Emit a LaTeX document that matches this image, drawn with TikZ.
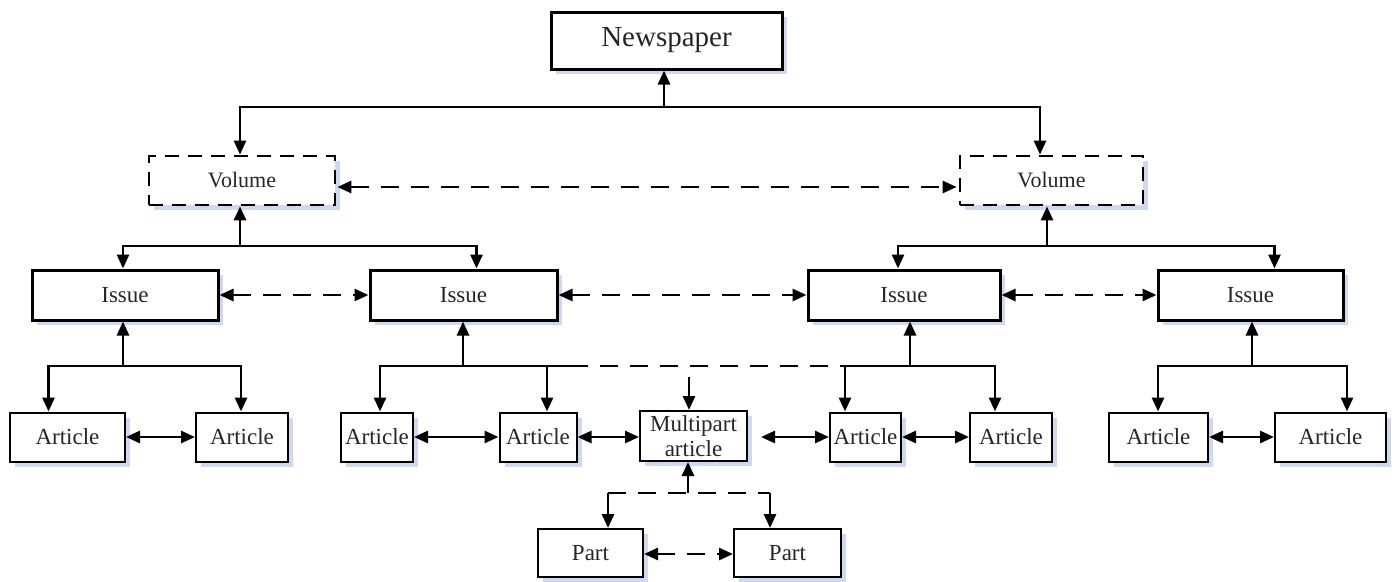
\documentclass[tikz,border=0pt]{standalone}
\usepackage{fontspec}
\setmainfont{Liberation Serif}
\usetikzlibrary{arrows.meta,calc,shadows}
\definecolor{shadowblue}{RGB}{206,216,238}
\begin{document}
\begin{tikzpicture}[x=1pt,y=-1pt,
  sh/.style={drop shadow={shadow xshift=5pt,shadow yshift=-5pt,fill=shadowblue,opacity=1}},
  box/.style={sh,draw=black,fill=white,line width=3pt,rectangle,inner sep=0pt,align=center,
    font=\fontsize{23}{26}\selectfont,text=black!85},
  abox/.style={box,line width=2pt},
  vbox/.style={box,dash pattern=on 14pt off 9pt,line width=2.8pt},
  conn/.style={line width=2.8pt},
  dconn/.style={conn,dash pattern=on 18pt off 12pt},
  tip/.tip={Triangle[length=14pt,width=12pt]},
  arr/.style={conn,-tip},
  darr/.style={conn,tip-tip},
  ddarr/.style={dconn,tip-tip}
]
\useasboundingbox (0,0) rectangle (1397,581);

% nodes
\node[box,minimum width=231pt,minimum height=57pt,font=\fontsize{29}{32}\selectfont] (np) at (666.5,40.5) {Newspaper};
\node[vbox,minimum width=186pt,minimum height=49pt,font=\fontsize{22}{26}\selectfont] (vol1) at (242,180.5) {Volume};
\node[vbox,minimum width=183pt,minimum height=49pt,font=\fontsize{22}{26}\selectfont] (vol2) at (1051.5,180.5) {Volume};

\node[box,minimum width=186pt,minimum height=50pt] (is1) at (125,295) {Issue};
\node[box,minimum width=187pt,minimum height=50pt] (is2) at (463.5,295) {Issue};
\node[box,minimum width=192pt,minimum height=50pt] (is3) at (904,295) {Issue};
\node[box,minimum width=185pt,minimum height=50pt] (is4) at (1250.5,295) {Issue};

\node[abox,minimum width=115pt,minimum height=49pt] (a1) at (67.5,437) {Article};
\node[abox,minimum width=92pt,minimum height=49pt] (a2) at (242,437) {Article};
\node[abox,minimum width=72pt,minimum height=49pt] (a3) at (377,437) {Article};
\node[abox,minimum width=77pt,minimum height=49pt] (a4) at (538,437) {Article};
\node[abox,minimum width=107pt,minimum height=50pt,font=\fontsize{23}{25}\selectfont] (mp) at (693.5,436) {Multipart\\article};
\node[abox,minimum width=71pt,minimum height=49pt] (a5) at (865.5,437) {Article};
\node[abox,minimum width=82pt,minimum height=49pt] (a6) at (1011,437) {Article};
\node[abox,minimum width=99pt,minimum height=49pt] (a7) at (1158.5,437) {Article};
\node[abox,minimum width=111pt,minimum height=49pt] (a8) at (1330.5,437) {Article};

\node[abox,minimum width=105pt,minimum height=48pt] (p1) at (590.5,553) {Part};
\node[abox,minimum width=107pt,minimum height=48pt] (p2) at (787.5,553) {Part};

% junction points
\coordinate (j0) at (664,107);
\coordinate (jv1) at (240,246);
\coordinate (jv2) at (1047,246);
\coordinate (ji1) at (123,366);
\coordinate (ji2) at (463,366);
\coordinate (d1) at (570,366);
\coordinate (ji3l) at (845,366);
\coordinate (ji3) at (910,366);
\coordinate (ji4) at (1252,366);
\coordinate (mtop) at (689,377);
\coordinate (jm) at (688,493);
\coordinate (pj1) at (608,493);
\coordinate (pj2) at (770,493);

% Newspaper level
\draw[arr] (j0) -- (j0 |- np.south);
\draw[arr] (j0) -| ($(vol1.north)+(-2,0)$);
\draw[arr] (j0) -| ($(vol2.north)+(-11.5,0)$);

% Volume links
\draw[ddarr] ($(vol1.east)+(1,6.5)$) -- ($(vol2.west)+(-2,6.5)$);

% Volume -> issues
\draw[arr] (jv1) -- (jv1 |- vol1.south);
\draw[arr] (jv1) -| ($(is1.north)+(-2,0)$);
\draw[arr] (jv1) -| ($(is2.north)+(13,0)$);
\draw[arr] (jv2) -- (jv2 |- vol2.south);
\draw[arr] (jv2) -| ($(is3.north)+(-6,0)$);
\draw[arr] (jv2) -| ($(is4.north)+(24,0)$);

% Issue links
\draw[ddarr] (is1.east) -- (is2.west);
\draw[ddarr] (is2.east) -- (is3.west);
\draw[ddarr] (is3.east) -- (is4.west);

% Issue -> articles
\draw[arr] (ji1) -- (ji1 |- is1.south);
\draw[arr] (ji1) -| ($(a1.north)+(-19,0)$);
\draw[arr] (ji1) -| ($(a2.north)+(-1,0)$);

\draw[arr] (ji2) -- (ji2 |- is2.south);
\draw[arr] (ji2) -| ($(a3.north)+(3,0)$);
\draw[arr] (ji2) -| ($(a4.north)+(9,0)$);
\draw[conn] (ji2) -- (d1);
\draw[dconn] (d1) -- (ji3l);
\draw[arr] (mtop) -- (mtop |- mp.north);

\draw[arr] (ji3) -- (ji3 |- is3.south);
\draw[arr] (ji3) -| ($(a5.north)+(-20.5,0)$);
\draw[arr] (ji3) -| ($(a6.north)+(-16,0)$);

\draw[arr] (ji4) -- (ji4 |- is4.south);
\draw[arr] (ji4) -| ($(a7.north)+(-0.5,0)$);
\draw[arr] (ji4) -| ($(a8.north)+(16.5,0)$);

% Article links
\draw[darr] (a1.east) -- (a2.west);
\draw[darr] (a3.east) -- (a4.west);
\draw[darr] (a4.east) -- ($(mp.west)+(0,1)$);
\draw[darr] ($(mp.east)+(13,1)$) -- (a5.west);
\draw[darr] (a5.east) -- (a6.west);
\draw[darr] (a7.east) -- (a8.west);

% Multipart -> parts
\draw[arr] (jm) -- (jm |- mp.south);
\draw[dconn] (pj1) -- (pj2);
\draw[arr] (pj1) -- (pj1 |- p1.north);
\draw[arr] (pj2) -- (pj2 |- p2.north);
\draw[ddarr] ($(p1.east)+(0,1)$) -- ($(p2.west)+(0,1)$);
\end{tikzpicture}
\end{document}
